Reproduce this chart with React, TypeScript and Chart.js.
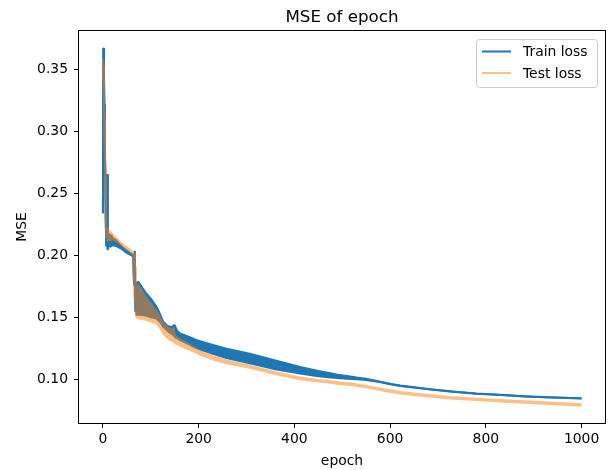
import React, { useEffect, useRef } from "react";
import { Chart, registerables } from "chart.js";

Chart.register(...registerables);

// ---- data ----
const chartTitle = "MSE of epoch";
const xTitle = "epoch";
const yTitle = "MSE";
const seriesLabels = ["Train loss", "Test loss"];

const xTicks = [0, 200, 400, 600, 800, 1000];
const yTicks = [0.1, 0.15, 0.2, 0.25, 0.3, 0.35];
const xLimits = [-49.95, 1048.95];
const yLimits = [0.0645, 0.3814];

// Train loss: upper and lower edge of the noisy band
const trainEpochs = [0, 1, 2, 3, 4, 5, 6, 7, 8, 9, 10, 11, 12, 14, 16, 18, 20, 25, 30, 40, 50, 60, 63, 64, 65, 66, 67, 68, 69, 70, 74, 82, 90, 100, 112, 120, 126, 135, 145, 148, 150, 155, 161, 180, 196, 230, 258, 307, 360, 412, 450, 470, 490, 510, 530, 550, 575, 600, 621, 680, 725, 780, 830, 880, 934, 1000];
const trainHigh = [0.234, 0.367, 0.352, 0.322, 0.292, 0.262, 0.228, 0.208, 0.214, 0.265, 0.205, 0.214, 0.216, 0.217, 0.215, 0.216, 0.214, 0.213, 0.211, 0.207, 0.204, 0.201, 0.2, 0.2, 0.176, 0.203, 0.19, 0.155, 0.175, 0.178, 0.1786, 0.174, 0.1695, 0.165, 0.1584, 0.152, 0.1463, 0.143, 0.142, 0.1436, 0.1436, 0.139, 0.137, 0.134, 0.1315, 0.1275, 0.1245, 0.1205, 0.115, 0.1098, 0.1065, 0.1052, 0.1035, 0.1025, 0.1013, 0.1003, 0.0982, 0.0963, 0.0948, 0.092, 0.0902, 0.0884, 0.0873, 0.0862, 0.0853, 0.0845];
const trainLow = [0.234, 0.367, 0.352, 0.322, 0.292, 0.262, 0.228, 0.208, 0.214, 0.265, 0.205, 0.214, 0.207, 0.208, 0.207, 0.208, 0.208, 0.208, 0.207, 0.205, 0.202, 0.2, 0.199, 0.2, 0.176, 0.203, 0.19, 0.155, 0.175, 0.152, 0.152, 0.1518, 0.1515, 0.15, 0.149, 0.146, 0.1422, 0.139, 0.136, 0.1355, 0.1342, 0.133, 0.1315, 0.128, 0.1248, 0.1205, 0.117, 0.1127, 0.108, 0.1046, 0.1022, 0.1015, 0.1008, 0.1003, 0.0998, 0.0993, 0.0978, 0.0959, 0.0944, 0.0917, 0.0899, 0.0882, 0.0871, 0.086, 0.0851, 0.0843];

// Test loss: upper and lower edge
const testEpochs = [0, 1, 2, 3, 4, 5, 6, 7, 8, 9, 10, 12, 14, 16, 20, 30, 40, 50, 60, 64, 65, 66, 67, 68, 69, 70, 74, 82, 90, 100, 112, 120, 126, 140, 148, 150, 154, 170, 196, 203, 230, 258, 307, 360, 412, 450, 470, 495, 520, 558, 590, 621, 680, 725, 780, 830, 880, 934, 1000];
const testHigh = [0.359, 0.352, 0.335, 0.31, 0.285, 0.27, 0.24, 0.215, 0.218, 0.222, 0.212, 0.22, 0.217, 0.219, 0.217, 0.213, 0.2095, 0.2065, 0.2035, 0.202, 0.18, 0.201, 0.165, 0.19, 0.152, 0.172, 0.176, 0.171, 0.166, 0.161, 0.155, 0.149, 0.145, 0.14, 0.141, 0.1355, 0.134, 0.13, 0.1245, 0.1225, 0.1185, 0.115, 0.1108, 0.1055, 0.1013, 0.0993, 0.0986, 0.0972, 0.0965, 0.0939, 0.0915, 0.0895, 0.0872, 0.0855, 0.0842, 0.0831, 0.0821, 0.081, 0.0796];
const testLow = [0.359, 0.352, 0.335, 0.31, 0.285, 0.27, 0.24, 0.215, 0.218, 0.222, 0.212, 0.212, 0.213, 0.212, 0.213, 0.211, 0.208, 0.205, 0.202, 0.202, 0.18, 0.201, 0.165, 0.19, 0.152, 0.15, 0.149, 0.1485, 0.148, 0.1465, 0.145, 0.141, 0.1369, 0.1315, 0.1305, 0.129, 0.1285, 0.1255, 0.1212, 0.1198, 0.1158, 0.1128, 0.1092, 0.104, 0.0999, 0.098, 0.0973, 0.0958, 0.0952, 0.0927, 0.0903, 0.0883, 0.086, 0.0843, 0.083, 0.0819, 0.0809, 0.0798, 0.0784];

// ---- styles ----
const BLUE = "#1f77b4";
const ORANGE = "#ff7f0e";
const ORANGE_LIGHT = "#ffbf86";
const FONT = '"DejaVu Sans", sans-serif';
const W = 608;
const H = 470;

function pts(xs: number[], ys: number[]) {
  return xs.map((x, i) => ({ x, y: ys[i] }));
}

function makeOptions(visible: boolean): any {
  const ink = visible ? "#000000" : "rgba(0,0,0,0)";
  return {
    responsive: false,
    maintainAspectRatio: false,
    animation: false,
    devicePixelRatio: 1,
    events: [],
    layout: { padding: { top: 31, right: 3, left: 0, bottom: 0 } },
    plugins: {
      legend: { display: false },
      tooltip: { enabled: false },
      title: { display: false },
    },
    elements: {
      point: { radius: 0 },
      line: { tension: 0, borderJoinStyle: "round", borderCapStyle: "butt" },
    },
    scales: {
      x: {
        type: "linear",
        min: xLimits[0],
        max: xLimits[1],
        afterBuildTicks: (s: any) => {
          s.ticks = xTicks.map((v) => ({ value: v }));
        },
        afterFit: (s: any) => {
          s.height = 47;
        },
        grid: { display: true, drawOnChartArea: false, drawTicks: true, tickLength: 5, color: ink, lineWidth: 1 },
        border: { display: false },
        ticks: {
          color: ink,
          font: { family: FONT, size: 13.9 },
          padding: 3,
          maxRotation: 0,
          autoSkip: false,
          callback: (v: any) => String(v),
        },
      },
      y: {
        type: "linear",
        min: yLimits[0],
        max: yLimits[1],
        afterBuildTicks: (s: any) => {
          s.ticks = yTicks.map((v) => ({ value: v }));
        },
        afterFit: (s: any) => {
          s.width = 79;
        },
        grid: { display: true, drawOnChartArea: false, drawTicks: true, tickLength: 5, color: ink, lineWidth: 1 },
        border: { display: false },
        ticks: {
          color: ink,
          font: { family: FONT, size: 13.9 },
          padding: 6,
          autoSkip: false,
          callback: (v: any) => Number(v).toFixed(2),
        },
      },
    },
  };
}

const decorPlugin = {
  id: "decor",
  afterDraw(chart: any) {
    const ctx = chart.ctx;
    const a = chart.chartArea;
    ctx.save();
    // frame
    ctx.strokeStyle = "#000";
    ctx.lineWidth = 1;
    ctx.strokeRect(Math.round(a.left) - 0.5, Math.round(a.top) - 0.5, Math.round(a.right - a.left) + 1, Math.round(a.bottom - a.top) + 1);
    // title
    const cx = (a.left + a.right) / 2;
    ctx.fillStyle = "#000";
    ctx.textAlign = "center";
    ctx.textBaseline = "middle";
    ctx.font = `16.7px ${FONT}`;
    ctx.fillText(chartTitle, cx, a.top - 13);
    // axis titles
    ctx.font = `13.9px ${FONT}`;
    ctx.fillText(xTitle, cx, a.bottom + 38);
    ctx.save();
    ctx.translate(a.left - 57, (a.top + a.bottom) / 2);
    ctx.rotate(-Math.PI / 2);
    ctx.fillText(yTitle, 0, 0);
    ctx.restore();
    // legend
    const bx = a.right - 129;
    const by = a.top + 8;
    const bw = 121;
    const bh = 48;
    ctx.beginPath();
    ctx.roundRect(bx + 0.5, by + 0.5, bw, bh, 3);
    ctx.fillStyle = "rgba(255,255,255,0.8)";
    ctx.fill();
    ctx.strokeStyle = "#cccccc";
    ctx.lineWidth = 1;
    ctx.stroke();
    const colors = [BLUE, ORANGE_LIGHT];
    ctx.textAlign = "left";
    ctx.font = `13.9px ${FONT}`;
    seriesLabels.forEach((lab, i) => {
      const ly = by + 12.5 + i * 21.5;
      ctx.strokeStyle = colors[i];
      ctx.lineWidth = 2;
      ctx.beginPath();
      ctx.moveTo(bx + 6, ly);
      ctx.lineTo(bx + 35, ly);
      ctx.stroke();
      ctx.fillStyle = "#000";
      ctx.fillText(lab, bx + 47, ly + 1);
    });
    ctx.restore();
  },
};

export default function App() {
  const baseRef = useRef<HTMLCanvasElement | null>(null);
  const topRef = useRef<HTMLCanvasElement | null>(null);

  useEffect(() => {
    if (!baseRef.current || !topRef.current) return;
    const base = new Chart(baseRef.current, {
      type: "line",
      data: {
        datasets: [
          {
            label: seriesLabels[0],
            data: pts(trainEpochs, trainHigh),
            borderColor: BLUE,
            borderWidth: 2,
            pointRadius: 0,
            fill: false,
          },
          {
            label: seriesLabels[0] + " (band)",
            data: pts(trainEpochs, trainLow),
            borderColor: BLUE,
            backgroundColor: BLUE,
            borderWidth: 2,
            pointRadius: 0,
            fill: "-1",
          },
        ],
      },
      options: makeOptions(true),
      plugins: [decorPlugin],
    } as any);
    const top = new Chart(topRef.current, {
      type: "line",
      data: {
        datasets: [
          {
            label: seriesLabels[1],
            data: pts(testEpochs, testHigh),
            borderColor: ORANGE,
            borderWidth: 2,
            pointRadius: 0,
            fill: false,
          },
          {
            label: seriesLabels[1] + " (band)",
            data: pts(testEpochs, testLow),
            borderColor: ORANGE,
            backgroundColor: ORANGE,
            borderWidth: 2,
            pointRadius: 0,
            fill: "-1",
          },
        ],
      },
      options: makeOptions(false),
    } as any);
    return () => {
      base.destroy();
      top.destroy();
    };
  }, []);

  return (
    <div style={{ position: "fixed", left: 0, top: 0, width: W, height: H, background: "#fff" }}>
      <canvas ref={baseRef} width={W} height={H} style={{ position: "absolute", left: 0, top: 0 }} />
      <canvas ref={topRef} width={W} height={H} style={{ position: "absolute", left: 0, top: 0, opacity: 0.5 }} />
    </div>
  );
}
